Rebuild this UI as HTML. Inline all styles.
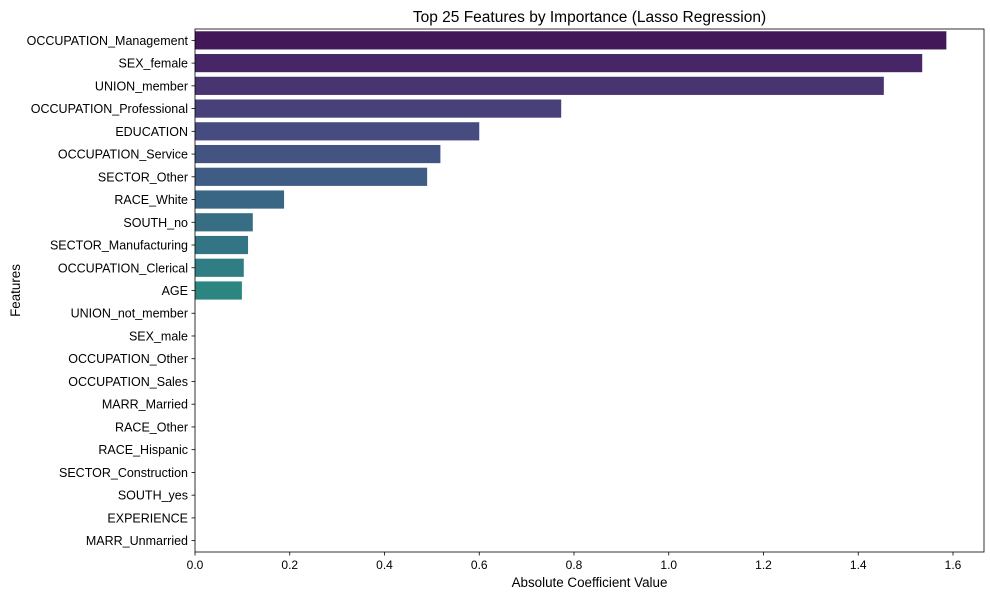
<!DOCTYPE html>
<html><head><meta charset="utf-8"><style>
body{margin:0;background:#fff;}
svg{font-family:"Liberation Sans","DejaVu Sans",sans-serif;}
</style></head><body>
<svg id="chart" width="990" height="595" xmlns="http://www.w3.org/2000/svg"></svg>
<script>
const categories=["OCCUPATION_Management","SEX_female","UNION_member","OCCUPATION_Professional","EDUCATION","OCCUPATION_Service","SECTOR_Other","RACE_White","SOUTH_no","SECTOR_Manufacturing","OCCUPATION_Clerical","AGE","UNION_not_member","SEX_male","OCCUPATION_Other","OCCUPATION_Sales","MARR_Married","RACE_Other","RACE_Hispanic","SECTOR_Construction","SOUTH_yes","EXPERIENCE","MARR_Unmarried"];
const values=[1.586,1.535,1.454,0.773,0.600,0.518,0.490,0.188,0.122,0.112,0.103,0.099,0,0,0,0,0,0,0,0,0,0,0];
const xTicks=[0,0.2,0.4,0.6,0.8,1.0,1.2,1.4,1.6];
const xTickLabels=["0.0","0.2","0.4","0.6","0.8","1.0","1.2","1.4","1.6"];

const svg=document.getElementById('chart');
const NS="http://www.w3.org/2000/svg";
const L=195,R=984,T=29,B=552;
const xMax=(R-L)/473.75;
const x=v=>L+v/xMax*(R-L);
const n=categories.length;
const band=(B-T)/n;
const y=i=>T+band*(i+0.5);
function mk(tag,attrs,parent){const e=document.createElementNS(NS,tag);for(const k in attrs)e.setAttribute(k,attrs[k]);(parent||svg).appendChild(e);return e;}
const vir=[[68,1,84],[72,40,120],[62,73,137],[49,104,142],[38,130,142],[31,158,137],[53,183,121],[110,206,88],[181,222,43],[253,231,37]];
function viridis(t){const p=t*9,i=Math.min(8,Math.floor(p)),f=p-i;return vir[i].map((c,k)=>c+(vir[i+1][k]-c)*f);}
function desat(rgb,s){const m=(Math.max(...rgb)+Math.min(...rgb))/2;return rgb.map(c=>Math.round(m+(c-m)*s));}
values.forEach((v,i)=>{
  const c=desat(viridis((i+1)/(n+1)),0.8);
  const r=mk('rect',{x:x(0),y:y(i)-band*0.4,width:Math.max(0,x(v)-x(0)),height:band*0.8,fill:`rgb(${c.join(',')})`});
  
  
  const lab=mk('text',{x:L-7,y:y(i)+4.5,'text-anchor':'end','font-size':12.5,fill:'#000'});
  lab.textContent=categories[i];
  
  
  mk('line',{x1:L-3.5,x2:L,y1:y(i),y2:y(i),stroke:'#000','stroke-width':0.8});
});
xTicks.forEach((t,i)=>{
  mk('line',{x1:x(t),x2:x(t),y1:B,y2:B+3.5,stroke:'#000','stroke-width':0.8});
  const tx=mk('text',{x:x(t),y:B+17,'text-anchor':'middle','font-size':12,fill:'#000'});
  tx.textContent=xTickLabels[i];
  
  
});
const frame=mk('rect',{x:L,y:T,width:R-L,height:B-T,fill:'none',stroke:'#000','stroke-width':0.8});


const title=mk('text',{x:(L+R)/2,y:22,'text-anchor':'middle','font-size':15.5,fill:'#000'});
title.textContent="Top 25 Features by Importance (Lasso Regression)";


const xl=mk('text',{x:(L+R)/2,y:587,'text-anchor':'middle','font-size':13.4,fill:'#000'});
xl.textContent="Absolute Coefficient Value";


const yl=mk('text',{x:20,y:(T+B)/2,'text-anchor':'middle','font-size':13.4,fill:'#000',transform:`rotate(-90 20 ${(T+B)/2})`});
yl.textContent="Features";


</script>
</body></html>
